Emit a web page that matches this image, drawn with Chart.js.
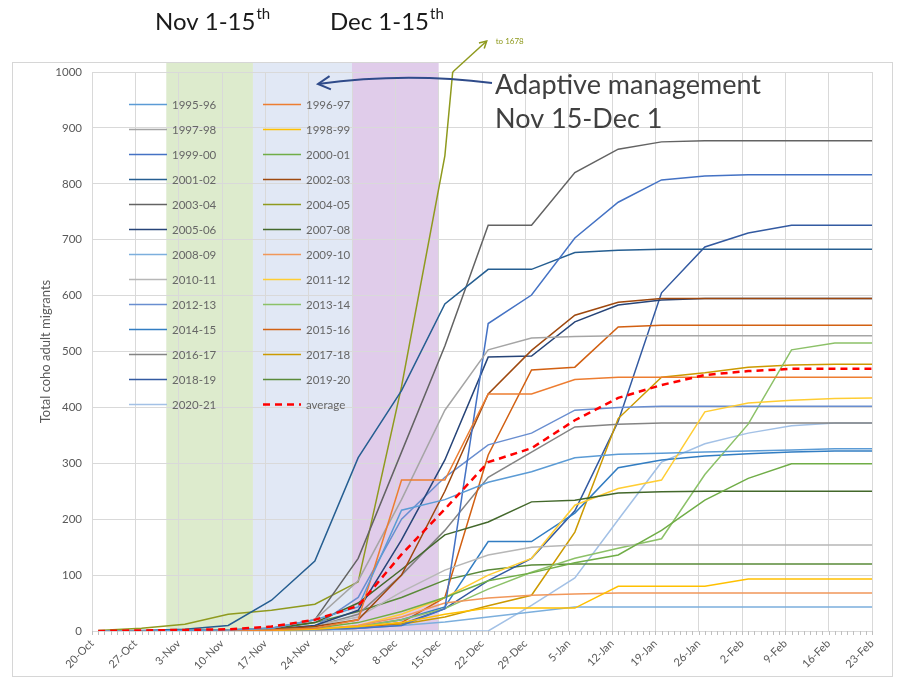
<!DOCTYPE html>
<html>
<head>
<meta charset="utf-8">
<script src="https://cdn.jsdelivr.net/npm/chart.js@4.4.1/dist/chart.umd.min.js"></script>
<style>
  body { margin: 0; background: #fff; }
  #wrap { width: 898px; height: 681px; }
</style>
</head>
<body>
<div id="wrap"><canvas id="coho-chart" width="898" height="681"></canvas></div>
<script>
// days since 20-Oct for each weekly count
const sampleDays = [1, 8, 15, 22, 29, 36, 43, 50, 57, 64, 71, 78, 85, 92, 99, 106, 113, 120, 126];
const xTickLabels = ['20-Oct', '27-Oct', '3-Nov', '10-Nov', '17-Nov', '24-Nov', '1-Dec', '8-Dec', '15-Dec',
    '22-Dec', '29-Dec', '5-Jan', '12-Jan', '19-Jan', '26-Jan', '2-Feb', '9-Feb', '16-Feb', '23-Feb'];

const seasons = ['1995-96', '1996-97', '1997-98', '1998-99', '1999-00', '2000-01', '2001-02', '2002-03',
    '2003-04', '2004-05', '2005-06', '2007-08', '2008-09', '2009-10', '2010-11', '2011-12', '2012-13',
    '2013-14', '2014-15', '2015-16', '2016-17', '2017-18', '2018-19', '2019-20', '2020-21'];
const seasonColors = ['#5B9BD5', '#ED7D31', '#A5A5A5', '#FFC000', '#4472C4', '#70AD47', '#255E91', '#9E480E',
    '#636363', '#8F9A1E', '#264478', '#43682B', '#7CAFDD', '#F1975A', '#B7B7B7', '#FFCD33', '#698ED0',
    '#8CC168', '#327DC2', '#D26012', '#848484', '#CC9A00', '#335AA1', '#5A8A39', '#A3C1E6'];

const run1995_96 = [0, 0, 1, 2, 5, 20, 43, 216, 235, 266, 285, 310, 316, 318, 320, 322, 324, 326, 326];
const run1996_97 = [0, 0, 0, 1, 2, 5, 20, 270, 270, 424, 424, 450, 454, 454, 454, 454, 454, 454, 454];
const run1997_98 = [0, 0, 1, 2, 5, 20, 90, 235, 395, 503, 524, 527, 528, 528, 528, 528, 528, 528, 528];
const run1998_99 = [0, 0, 0, 0, 1, 3, 8, 15, 30, 41, 41, 41, 80, 80, 80, 93, 93, 93, 93];
const run1999_00 = [0, 0, 0, 0, 1, 3, 5, 10, 40, 550, 601, 703, 767, 807, 814, 816, 816, 816, 816];
const run2000_01 = [0, 0, 0, 1, 2, 5, 15, 35, 60, 90, 104, 122, 136, 180, 234, 273, 299, 299, 299];
const run2001_02 = [0, 1, 3, 10, 55, 125, 310, 430, 585, 647, 647, 677, 681, 683, 683, 683, 683, 683, 683];
const run2002_03 = [0, 0, 0, 1, 3, 8, 20, 100, 250, 424, 502, 565, 588, 595, 595, 595, 595, 595, 595];
const run2003_04 = [0, 0, 1, 2, 5, 20, 130, 320, 510, 726, 726, 820, 862, 875, 877, 877, 877, 877, 877];
const run2004_05 = [1, 5, 12, 30, 37, 48, 88, 437, 850, 1678, 1678, 1678, 1678, 1678, 1678, 1678, 1678, 1678, 1678];
const run2005_06 = [0, 0, 0, 1, 3, 10, 37, 163, 306, 490, 492, 553, 583, 592, 595, 595, 595, 595, 595];
const run2007_08 = [0, 0, 1, 2, 5, 15, 50, 110, 172, 195, 231, 234, 247, 249, 250, 250, 250, 250, 250];
const run2008_09 = [0, 0, 0, 0, 1, 2, 5, 10, 16, 25, 34, 43, 43, 43, 43, 43, 43, 43, 43];
const run2009_10 = [0, 0, 0, 0, 1, 3, 10, 25, 50, 59, 64, 66, 68, 68, 68, 68, 68, 68, 68];
const run2010_11 = [0, 0, 0, 1, 2, 10, 25, 70, 109, 136, 150, 154, 154, 154, 154, 154, 154, 154, 154];
const run2011_12 = [0, 0, 0, 0, 1, 3, 10, 30, 60, 100, 130, 225, 255, 270, 392, 408, 413, 416, 417];
const run2012_13 = [0, 0, 0, 1, 3, 8, 60, 200, 275, 333, 354, 395, 400, 402, 402, 402, 402, 402, 402];
const run2013_14 = [0, 0, 0, 0, 1, 3, 8, 20, 40, 75, 105, 130, 148, 165, 280, 370, 503, 515, 515];
const run2014_15 = [0, 0, 0, 0, 1, 3, 8, 20, 43, 160, 160, 211, 292, 306, 313, 317, 320, 322, 322];
const run2015_16 = [0, 0, 0, 0, 1, 2, 5, 15, 60, 315, 467, 472, 544, 547, 547, 547, 547, 547, 547];
const run2016_17 = [0, 0, 0, 1, 2, 8, 30, 100, 180, 275, 320, 365, 370, 372, 372, 372, 372, 372, 372];
const run2017_18 = [0, 0, 0, 0, 1, 3, 6, 12, 25, 45, 64, 177, 380, 454, 462, 472, 476, 477, 477];
const run2018_19 = [0, 0, 0, 0, 1, 3, 5, 12, 40, 90, 130, 215, 375, 605, 687, 712, 726, 726, 726];
const run2019_20 = [0, 0, 0, 1, 3, 15, 35, 60, 91, 109, 118, 120, 120, 120, 120, 120, 120, 120, 120];
const run2020_21 = [0, 0, 0, 0, 0, 0, 0, 0, 0, 0, 46, 95, 199, 302, 335, 354, 367, 372, 372];
const averageRun = [0, 1, 2, 3, 8, 20, 45, 137, 218, 302, 327, 377, 417, 440, 458, 465, 469, 469, 469];

const seasonRuns = [run1995_96, run1996_97, run1997_98, run1998_99, run1999_00, run2000_01, run2001_02,
    run2002_03, run2003_04, run2004_05, run2005_06, run2007_08, run2008_09, run2009_10, run2010_11,
    run2011_12, run2012_13, run2013_14, run2014_15, run2015_16, run2016_17, run2017_18, run2018_19,
    run2019_20, run2020_21];

// shaded periods, in days since 20-Oct
const periodBands = [
    { from: 12, to: 26, color: '#DDEBCD' },
    { from: 26, to: 42, color: '#E1E8F5' },
    { from: 42, to: 56, color: '#E0CCEA' },
];

const toPoints = (values) => values.map((v, i) => ({ x: sampleDays[i], y: v }));

const datasets = seasons.map((name, i) => ({
    label: name,
    data: toPoints(seasonRuns[i]),
    borderColor: seasonColors[i],
    backgroundColor: seasonColors[i],
    borderWidth: 1.5,
    pointRadius: 0,
    tension: 0,
}));
datasets.push({
    label: 'average',
    data: toPoints(averageRun),
    borderColor: '#FF0000',
    backgroundColor: '#FF0000',
    borderWidth: 2.5,
    borderDash: [7, 5],
    pointRadius: 0,
    order: -1,
});

const FONT = 'Lato, "Open Sans", sans-serif';

function arrowHead(ctx, x, y, angle, size) {
    ctx.beginPath();
    ctx.moveTo(x + Math.cos(angle + 0.5) * size, y + Math.sin(angle + 0.5) * size);
    ctx.lineTo(x, y);
    ctx.lineTo(x + Math.cos(angle - 0.5) * size, y + Math.sin(angle - 0.5) * size);
    ctx.stroke();
}

const backdropPlugin = {
    id: 'backdrop',
    beforeDraw(chart) {
        const { ctx, chartArea, scales } = chart;
        ctx.save();
        periodBands.forEach((b) => {
            const x1 = scales.x.getPixelForValue(b.from);
            const x2 = scales.x.getPixelForValue(b.to);
            ctx.fillStyle = b.color;
            ctx.fillRect(x1, chartArea.top - 10, x2 - x1, chartArea.bottom - chartArea.top + 10);
        });
        ctx.strokeStyle = '#D6D6D6';
        ctx.lineWidth = 1;
        ctx.strokeRect(12.5, chartArea.top - 9.5, chart.width - 18, chart.height - chartArea.top + 5);
        ctx.restore();
    },
};

const overlayPlugin = {
    id: 'overlay',
    afterDraw(chart) {
        const { ctx, chartArea, scales } = chart;
        const xs = scales.x;
        ctx.save();

        // daily minor ticks on the date axis
        ctx.strokeStyle = '#BFBFBF';
        ctx.lineWidth = 1;
        for (let d = 0; d <= 126; d++) {
            const px = Math.round(xs.getPixelForValue(d)) + 0.5;
            ctx.beginPath();
            ctx.moveTo(px, chartArea.bottom);
            ctx.lineTo(px, chartArea.bottom + 4);
            ctx.stroke();
        }

        // legend, two columns inside the plot
        ctx.font = '11.5px ' + FONT;
        ctx.textBaseline = 'middle';
        chart.data.datasets.forEach((ds, i) => {
            const col = i % 2;
            const row = Math.floor(i / 2);
            const lx = chartArea.left + 37 + col * 134;
            const ly = chartArea.top + 32.5 + row * 25;
            ctx.strokeStyle = ds.borderColor;
            ctx.lineWidth = ds.borderWidth;
            ctx.setLineDash(ds.borderDash || []);
            ctx.beginPath();
            ctx.moveTo(lx, ly);
            ctx.lineTo(lx + 38, ly);
            ctx.stroke();
            ctx.setLineDash([]);
            ctx.fillStyle = '#666666';
            ctx.fillText(ds.label, lx + 43, ly + 1);
        });

        // period headings
        const heading = (text, x0) => {
            ctx.fillStyle = '#1A1A1A';
            ctx.textBaseline = 'alphabetic';
            ctx.font = '24px ' + FONT;
            const w1 = ctx.measureText(text).width;
            ctx.fillText(text, x0, 30);
            ctx.font = '15px ' + FONT;
            ctx.fillText('th', x0 + w1 + 1, 19);
        };
        heading('Nov 1-15', 155);
        heading('Dec 1-15', 330);

        // adaptive management note
        ctx.fillStyle = '#404040';
        ctx.font = '27px ' + FONT;
        ctx.textBaseline = 'alphabetic';
        ctx.fillText('Adaptive management', 495, 94);
        ctx.fillText('Nov 15-Dec 1', 495, 128);
        ctx.strokeStyle = '#2F4B8A';
        ctx.lineWidth = 2;
        ctx.beginPath();
        ctx.moveTo(492, 83);
        ctx.quadraticCurveTo(405, 72, 318, 84);
        ctx.stroke();
        arrowHead(ctx, 318, 84, -0.1, 14);

        // off-scale 2004-05 run
        const ys = scales.y;
        const pts = run2004_05;
        for (let i = 1; i < pts.length; i++) {
            if (pts[i] > ys.max && pts[i - 1] <= ys.max) {
                const t = (ys.max - pts[i - 1]) / (pts[i] - pts[i - 1]);
                const day = sampleDays[i - 1] + t * (sampleDays[i] - sampleDays[i - 1]);
                const px = xs.getPixelForValue(day);
                const py = ys.getPixelForValue(ys.max);
                ctx.strokeStyle = '#8F9A1E';
                ctx.lineWidth = 1.5;
                ctx.beginPath();
                ctx.moveTo(px, py);
                ctx.lineTo(px + 34, py - 31);
                ctx.stroke();
                arrowHead(ctx, px + 34, py - 31, Math.PI * 0.76, 8);
                ctx.fillStyle = '#8F9A1E';
                ctx.font = '8px ' + FONT;
                ctx.fillText('to 1678', px + 43, py - 28);
                break;
            }
        }
        ctx.restore();
    },
};

new Chart(document.getElementById('coho-chart'), {
    type: 'line',
    data: { datasets: datasets },
    plugins: [backdropPlugin, overlayPlugin],
    options: {
        responsive: false,
        animation: false,
        devicePixelRatio: 1,
        layout: { padding: { left: 0, right: 26, top: 72, bottom: 0 } },
        plugins: {
            legend: { display: false },
            tooltip: { enabled: false },
        },
        scales: {
            x: {
                type: 'linear',
                min: 0,
                max: 126,
                afterFit: (scale) => { scale.height = 50; },
                ticks: {
                    stepSize: 7,
                    autoSkip: false,
                    minRotation: 45,
                    maxRotation: 45,
                    padding: 6,
                    color: '#595959',
                    font: { family: FONT, size: 11 },
                    callback: (value) => xTickLabels[Math.round(value / 7)],
                },
                grid: { color: '#D9D9D9', drawTicks: false },
                border: { color: '#D9D9D9' },
            },
            y: {
                min: 0,
                max: 1000,
                afterFit: (scale) => { scale.width = 92; },
                ticks: {
                    stepSize: 100,
                    padding: 10,
                    color: '#595959',
                    font: { family: FONT, size: 11.5 },
                    callback: (value) => String(value),
                },
                grid: { color: '#D9D9D9', drawTicks: false },
                border: { display: false },
                title: {
                    display: true,
                    text: 'Total coho adult migrants',
                    color: '#595959',
                    font: { family: FONT, size: 13 },
                    padding: { top: 38, bottom: 0 },
                },
            },
        },
    },
});
</script>
</body>
</html>
